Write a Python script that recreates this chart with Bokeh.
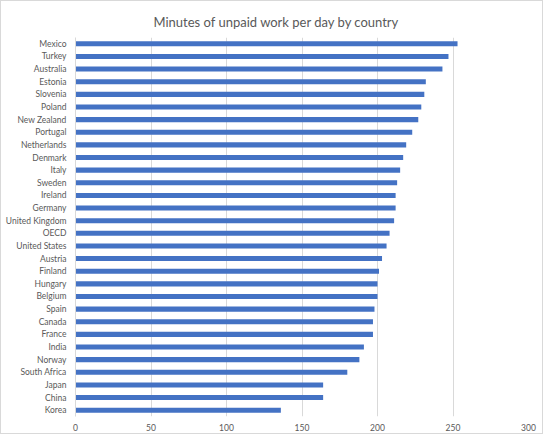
from bokeh.plotting import figure
from bokeh.models import ColumnDataSource, Title, FixedTicker, Range1d
from bokeh.embed import file_html
from bokeh.resources import INLINE

countries = ["Mexico", "Turkey", "Australia", "Estonia", "Slovenia", "Poland",
             "New Zealand", "Portugal", "Netherlands", "Denmark", "Italy", "Sweden",
             "Ireland", "Germany", "United Kingdom", "OECD", "United States",
             "Austria", "Finland", "Hungary", "Belgium", "Spain", "Canada", "France",
             "India", "Norway", "South Africa", "Japan", "China", "Korea"]
minutes = [253, 247, 243, 232, 231, 229, 227, 223, 219, 217, 215, 213,
           212, 212, 211, 208, 206, 203, 201, 200, 200, 198, 197, 197,
           191, 188, 180, 164, 164, 136]
x_ticks = [0, 50, 100, 150, 200, 250, 300]

FONT = "Lato"
GREY = "#595959"

source = ColumnDataSource(data=dict(country=countries, minutes=minutes))

p = figure(width=543, height=434, output_backend="svg", toolbar_location=None,
           y_range=list(reversed(countries)), x_range=Range1d(0, 300),
           min_border_left=74, min_border_right=16, min_border_top=36,
           min_border_bottom=19)

p.hbar(y="country", right="minutes", left=0, height=0.4, source=source,
       fill_color="#4472C4", line_color=None)

p.title = None
t = Title(text="Minutes of unpaid work per day by country", align="left",
          offset=78, text_font=FONT, text_font_size="13px",
          text_font_style="normal", text_color=GREY, standoff=15)
p.add_layout(t, "above")

p.outline_line_color = None
p.background_fill_color = "white"
p.border_fill_color = "white"

p.xaxis.ticker = FixedTicker(ticks=x_ticks)
p.xaxis.axis_line_color = None
p.xaxis.major_tick_line_color = None
p.xaxis.minor_tick_line_color = None
p.xaxis.major_tick_out = 0
p.xaxis.major_label_standoff = 7
p.xaxis.major_label_text_font = FONT
p.xaxis.major_label_text_font_size = "8.5px"
p.xaxis.major_label_text_color = GREY

p.yaxis.axis_line_color = "#d9d9d9"
p.yaxis.major_tick_line_color = None
p.yaxis.minor_tick_line_color = None
p.yaxis.major_tick_out = 0
p.yaxis.major_label_standoff = 9
p.yaxis.major_label_text_font = FONT
p.yaxis.major_label_text_font_size = "8.5px"
p.yaxis.major_label_text_color = GREY

p.xgrid.grid_line_color = "#d9d9d9"
p.xgrid.ticker = FixedTicker(ticks=x_ticks)
p.ygrid.grid_line_color = None

p.styles = {"border": "1px solid #d9d9d9"}

open("out.html", "w").write(file_html(p, INLINE))
